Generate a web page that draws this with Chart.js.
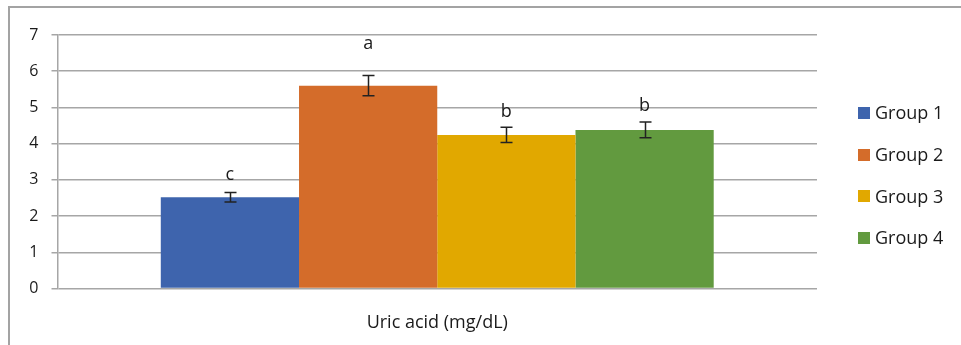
<!DOCTYPE html>
<html><head><meta charset="utf-8">
<script src="https://cdn.jsdelivr.net/npm/chart.js@4"></script>
<style>
html,body{margin:0;padding:0;background:#fff;}
#wrap{position:relative;width:961px;height:345px;overflow:hidden}
#frame{position:absolute;left:8px;top:6px;right:-5px;bottom:-5px;border-top:2px solid #a3a3a3;border-left:2px solid #a3a3a3;pointer-events:none}
canvas{position:absolute;left:0;top:0}
</style></head><body>
<div id="wrap"><canvas id="c" width="961" height="345"></canvas><div id="frame"></div></div>
<script>
const categories = ['Uric acid (mg/dL)'];
const groups = ['Group 1', 'Group 2', 'Group 3', 'Group 4'];
const means = [2.52, 5.60, 4.24, 4.38];
const errors = [0.13, 0.28, 0.21, 0.22];
const letters = ['c', 'a', 'b', 'b'];
const yTicks = [0, 1, 2, 3, 4, 5, 6, 7];

const colors = ['#3E64AD', '#D46C2A', '#E1A800', '#629A3F'];
const FONT = '"Open Sans", "Liberation Sans", sans-serif';
const TEXT = '#1a1a1a';

const errorBars = {
  id: 'errorBars',
  afterDatasetsDraw(chart, args, opts) {
    const ctx = chart.ctx, y = chart.scales.y;
    ctx.save();
    ctx.strokeStyle = opts.color; ctx.lineWidth = opts.lineWidth;
    chart.data.datasets.forEach((ds, i) => {
      const bar = chart.getDatasetMeta(i).data[0];
      const x = Math.round(bar.x) + 0.5;
      const t = y.getPixelForValue(means[i] + errors[i]);
      const b = y.getPixelForValue(means[i] - errors[i]);
      ctx.beginPath();
      ctx.moveTo(x, t); ctx.lineTo(x, b);
      ctx.moveTo(x - opts.cap, t); ctx.lineTo(x + opts.cap, t);
      ctx.moveTo(x - opts.cap, b); ctx.lineTo(x + opts.cap, b);
      ctx.stroke();
      // significance letter
      ctx.fillStyle = TEXT;
      ctx.font = opts.font;
      ctx.textAlign = 'center'; ctx.textBaseline = 'middle';
      ctx.fillText(letters[i], bar.x, y.getPixelForValue(opts.letterY[i]));
    });
    ctx.restore();
  }
};

const sideLegend = {
  id: 'sideLegend',
  afterDraw(chart, args, opts) {
    const ctx = chart.ctx;
    ctx.save();
    ctx.font = opts.font; ctx.textBaseline = 'middle'; ctx.textAlign = 'left';
    chart.data.datasets.forEach((ds, i) => {
      const cy = opts.y0 + i * opts.step;
      ctx.fillStyle = ds.backgroundColor;
      ctx.fillRect(opts.x, Math.round(cy - opts.box / 2), opts.box, opts.box);
      ctx.fillStyle = TEXT;
      ctx.fillText(ds.label, opts.x + opts.box + 5, cy + 1);
    });
    ctx.restore();
  }
};

new Chart(document.getElementById('c'), {
  type: 'bar',
  data: {
    labels: categories,
    datasets: groups.map((g, i) => ({
      label: g,
      data: [means[i]],
      backgroundColor: colors[i],
      borderWidth: 0,
      categoryPercentage: 0.728,
      barPercentage: 1
    }))
  },
  options: {
    responsive: false,
    animation: false,
    devicePixelRatio: 1,
    layout: { padding: { left: 8, top: 35, right: 144, bottom: 0 } },
    plugins: {
      legend: { display: false },
      tooltip: { enabled: false },
      errorBars: { color: '#222', lineWidth: 1.5, cap: 6, font: '18px ' + FONT, letterY: [3.13, 6.76, 4.88, 5.04] },
      sideLegend: { x: 858, y0: 113, step: 41.7, box: 12, font: '18px ' + FONT }
    },
    scales: {
      x: {
        grid: { display: false },
        border: { display: false },
        ticks: { color: TEXT, font: { family: FONT, size: 18 }, padding: 16 },
        afterFit(s) { s.height = 56.5; }
      },
      y: {
        min: 0, max: 7,
        afterBuildTicks(s) { s.ticks = yTicks.map(v => ({ value: v })); },
        grid: { color: '#a6a6a6', lineWidth: 1.5, tickLength: 6 },
        border: { color: '#a6a6a6', width: 1.5 },
        ticks: { color: TEXT, font: { family: FONT, size: 16 }, padding: 13 },
        afterFit(s) { s.width = 49.5; }
      }
    }
  },
  plugins: [errorBars, sideLegend]
});
</script>
</body></html>
